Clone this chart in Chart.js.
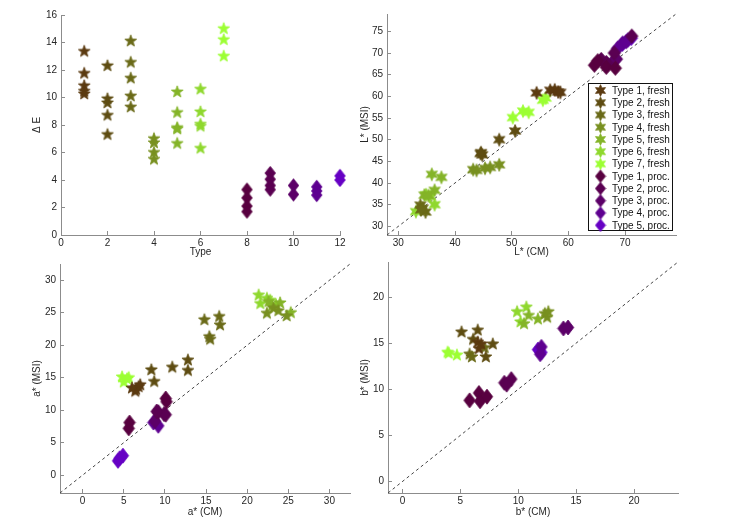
<!DOCTYPE html>
<html><head><meta charset="utf-8">
<script src="https://cdn.jsdelivr.net/npm/chart.js@4.4.0/dist/chart.umd.min.js"></script>
<style>
html,body{margin:0;padding:0;background:#fff;width:745px;height:524px;overflow:hidden}
.w{position:absolute;left:0;top:0;width:745px;height:524px}
</style></head><body>
<div class="w"><canvas id="c1"></canvas></div>
<div class="w"><canvas id="c2"></canvas></div>
<div class="w"><canvas id="c3"></canvas></div>
<div class="w"><canvas id="c4"></canvas></div>
<script>
// ---------- labels & colours ----------
const freshLabels = ['Type 1, fresh','Type 2, fresh','Type 3, fresh','Type 4, fresh','Type 5, fresh','Type 6, fresh','Type 7, fresh'];
const procLabels = ['Type 1, proc.','Type 2, proc.','Type 3, proc.','Type 4, proc.','Type 5, proc.'];
const freshColors = ['#5b3a10','#5e4c12','#6a6a18','#789020','#84b428','#8fd82e','#9cff33'];
const procColors = ['#580040','#5a0052','#5c0068','#5e0090','#6600c4'];

// ---------- Plot 1: Delta E per type ----------
const typeXFresh = [1,2,3,4,5,6,7];
const typeXProc = [8,9,10,11,12];
const dEFresh = [
  [13.35,11.75,10.85,10.45,10.25],
  [12.3,9.9,9.6,8.7,7.3],
  [14.1,12.55,11.4,10.1,9.3],
  [7.0,6.7,6.0,5.5],
  [10.4,8.9,7.8,7.7,6.65],
  [10.6,8.95,8.05,7.9,6.3],
  [15.0,14.2,13.0]
];
const dEProc = [
  [3.3,2.7,2.1,1.7],
  [4.5,4.05,3.6,3.3],
  [3.6,2.95],
  [3.5,3.2,2.9],
  [4.3,4.0]
];
const typeTicks = [0,2,4,6,8,10,12];
const dETicks = [0,2,4,6,8,10,12,14,16];

// ---------- Plot 2: L* ----------
const LcmFresh = [
  [54.4,56.8,57.6,58.2,58.6],
  [50.6,47.8,44.6,44.8,44.5],
  [33.9,34.8,34.3,34.0],
  [43.2,45.3,46.2,47.8,43.8],
  [35.9,37.6,36.4,34.6,35.3],
  [33.1,36.4,34.9,35.6],
  [50.2,52.0,53.0,55.5,56.0]
];
const LmsiFresh = [
  [60.8,61.4,61.5,61.0,60.9],
  [52.0,50.0,47.0,46.5,46.8],
  [34.9,33.3,34.2,33.8],
  [43.1,43.4,43.6,44.2,42.9],
  [42.0,41.3,38.3,37.2,37.1],
  [33.4,35.0,37.3,36.9],
  [55.1,56.6,56.3,59.1,59.6]
];
const LcmProc = [
  [64.6,66.7,68.3,65.2],
  [65.8,68.1,66.7,71.2],
  [67.8,66.9,68.5],
  [69.6,70.2,68.7],
  [71.1,70.5,69.5]
];
const LmsiProc = [
  [67.2,66.7,66.5,68.2],
  [68.5,70.0,67.8,73.9],
  [67.9,67.4,68.6],
  [72.3,72.6,71.1],
  [73.4,73.0,72.0]
];
const rangeL = [28,79];
const LTicksX = [30,40,50,60,70];
const LTicksY = [30,35,40,45,50,55,60,65,70,75];

// ---------- Plot 3: a* ----------
const AcmFresh = [
  [6.5,6.8,6.4,7.0,6.0],
  [8.35,8.7,10.9,12.8,12.8],
  [14.8,16.6,16.7,15.4,15.5],
  [22.4,23.2,24.8,23.8],
  [22.6,24.0,25.3,23.0],
  [21.4,22.4,21.6,22.8,23.5],
  [4.8,5.6,5.0,5.4]
];
const AmsiFresh = [
  [13.2,13.6,12.9,13.9,13.4],
  [16.2,14.4,16.6,17.7,16.1],
  [23.9,24.4,23.1,21.3,20.9],
  [24.9,25.7,24.5,25.3],
  [26.7,26.5,25.0,26.0],
  [27.7,27.2,26.4,26.9,26.2],
  [15.1,15.0,14.3,14.8]
];
const AcmProc = [
  [5.7,5.6,10.1,10.2],
  [9.2,9.9,10.1,9.0],
  [8.8],
  [8.6,9.2],
  [4.5,4.9,4.3]
];
const AmsiProc = [
  [8.1,7.2,11.8,11.3],
  [9.7,9.4,9.3,9.8],
  [8.3],
  [8.1,7.6],
  [2.6,3.0,2.2]
];
const rangeA = [-2.75,32.5];
const ATicks = [0,5,10,15,20,25,30];

// ---------- Plot 4: b* ----------
const BcmFresh = [
  [6.5,6.8,6.6],
  [5.1,6.5,6.1,7.8,7.2],
  [5.8,6.0,7.1],
  [12.3,12.5,12.6],
  [11.7,10.9,10.5],
  [9.9,10.7,10.2],
  [3.9,4.7,4.0]
];
const BmsiFresh = [
  [15.1,14.9,14.4],
  [16.2,16.4,15.4,14.9,13.5],
  [13.8,13.5,14.5],
  [18.2,17.8,18.4],
  [17.6,18.0,17.1],
  [18.4,18.9,17.3],
  [14.0,13.7,13.9]
];
const BcmProc = [
  [5.8,6.6,6.7,7.3],
  [8.8,9.4,9.0],
  [13.9,14.3],
  [12.0,11.9],
  [11.7,12.0]
];
const BmsiProc = [
  [8.8,9.6,8.7,9.2],
  [10.7,11.1,10.5],
  [16.6,16.7],
  [14.6,13.8],
  [14.3,14.0]
];
const rangeB = [-1.25,23.8];
const BTicks = [0,5,10,15,20];

// ---------- marker images ----------
function mkStar(color, r, n, inner){
  const size = Math.ceil(2*r+3);
  const c = document.createElement('canvas'); c.width = c.height = size;
  const g = c.getContext('2d'); g.translate(size/2,size/2);
  g.beginPath();
  for(let i=0;i<2*n;i++){const a=-Math.PI/2+i*Math.PI/n; const rr=(i%2)?r*inner:r; g.lineTo(rr*Math.cos(a),rr*Math.sin(a));}
  g.closePath(); g.fillStyle=color; g.fill(); g.strokeStyle=color; g.lineWidth=0.8; g.stroke();
  return c;
}
function mkDiamond(color, w, h){
  const W=Math.ceil(w+2), H=Math.ceil(h+2);
  const c = document.createElement('canvas'); c.width=W; c.height=H;
  const g=c.getContext('2d'); g.translate(W/2,H/2);
  g.beginPath(); g.moveTo(0,-h/2); g.lineTo(w/2,0); g.lineTo(0,h/2); g.lineTo(-w/2,0); g.closePath();
  g.fillStyle=color; g.fill(); g.strokeStyle=color; g.lineWidth=0.8; g.stroke();
  return c;
}

const FONT = "'Liberation Sans', Arial, Helvetica, sans-serif";
const AX = '#8c8c8c', TXT = '#262626';

function axis(range, ticks, title, isY, titlePad){
  return {
    type:'linear', min:range[0], max:range[1],
    afterBuildTicks: s => { s.ticks = ticks.map(v => ({value:v})); },
    afterFit: s => { if(isY) s.width = 40; else s.height = 30; },
    grid:{display:true, drawOnChartArea:false, drawTicks:true, tickLength:-4, color:AX, lineWidth:1},
    border:{display:true, color:AX, width:1},
    ticks:{padding: isY?8:6, color:TXT, font:{family:FONT,size:10}, maxRotation:0, autoSkip:false},
    title:{display:true, text:title, color:TXT, font:{family:FONT,size:10},
           padding: isY?{top:titlePad,bottom:0}:{top:0,bottom:titlePad}}
  };
}

function pts(xs, ys){ return xs.map((x,i)=>({x:x, y:ys[i]})); }

function groupSets(xF, yF, xP, yP, starR, starN, starIn, dW, dH){
  const sets = [];
  freshLabels.forEach((lab,i)=>{
    sets.push({label:lab, data:pts(xF[i], yF[i]), pointStyle:mkStar(freshColors[i],starR,starN,starIn),
      pointRadius:5, showLine:false, order:1, clip:false});
  });
  procLabels.forEach((lab,i)=>{
    sets.push({label:lab, data:pts(xP[i], yP[i]), pointStyle:mkDiamond(procColors[i],dW,dH),
      pointRadius:5, showLine:false, order:1, clip:false});
  });
  return sets;
}
function diagSet(range){
  return {label:'y=x', data:[{x:range[0],y:range[0]},{x:range[1],y:range[1]}], showLine:true,
    borderColor:'#444', borderWidth:1, borderDash:[3,3], pointRadius:0, order:5, clip:false};
}

function baseOpts(pad, xs, ys){
  return {
    responsive:true, maintainAspectRatio:false, animation:false, events:[],
    layout:{autoPadding:false, padding:pad},
    plugins:{legend:{display:false}, tooltip:{enabled:false}},
    scales:{x:xs, y:ys}
  };
}

// legend plugin for plot 2
const msiLegend = {
  id:'msiLegend',
  afterDraw(chart){
    const g = chart.ctx;
    const L=588, T=83, R=673, B=231;
    g.save();
    g.fillStyle='#fff'; g.fillRect(L,T,R-L,B-T);
    g.strokeStyle='#111'; g.lineWidth=1; g.strokeRect(L+0.5,T+0.5,R-L-1,B-T-1);
    const labels = freshLabels.concat(procLabels);
    const imgs = freshColors.map(c=>mkStar(c,5.8,6,0.5)).concat(procColors.map(c=>mkDiamond(c,10,12.5)));
    g.font = "10px " + FONT; g.fillStyle='#111'; g.textBaseline='middle'; g.textAlign='left';
    labels.forEach((lab,i)=>{
      const y = 90.5 + i*12.25;
      const im = imgs[i];
      g.drawImage(im, 600.5-im.width/2, y-im.height/2);
      g.fillText(lab, 612, y+0.5);
    });
    g.restore();
  }
};

// ---- Chart 1 ----
const sets1 = [];
freshLabels.forEach((lab,i)=>{
  sets1.push({label:lab, data:dEFresh[i].map(v=>({x:typeXFresh[i], y:v})), pointStyle:mkStar(freshColors[i],6.2,5,0.42), pointRadius:5, showLine:false, clip:false});
});
procLabels.forEach((lab,i)=>{
  sets1.push({label:lab, data:dEProc[i].map(v=>({x:typeXProc[i], y:v})), pointStyle:mkDiamond(procColors[i],10.5,13.5), pointRadius:5, showLine:false, clip:false});
});
new Chart(document.getElementById('c1'), {
  type:'scatter', data:{datasets:sets1},
  options: baseOpts({left:21,right:405,top:15,bottom:259},
    axis([0,12], typeTicks, 'Type', false, 7),
    axis([0,16], dETicks, 'Δ E', true, 10))
});

// ---- Chart 2 ----
new Chart(document.getElementById('c2'), {
  type:'scatter',
  data:{datasets:[diagSet(rangeL)].concat(groupSets(LcmFresh,LmsiFresh,LcmProc,LmsiProc,6.5,6,0.5,12.5,14.5))},
  options: baseOpts({left:347,right:69,top:7,bottom:259},
    axis(rangeL, LTicksX, 'L* (CM)', false, 7),
    axis(rangeL, LTicksY, 'L* (MSI)', true, 12)),
  plugins:[msiLegend]
});

// ---- Chart 3 ----
new Chart(document.getElementById('c3'), {
  type:'scatter',
  data:{datasets:[diagSet(rangeA)].concat(groupSets(AcmFresh,AmsiFresh,AcmProc,AmsiProc,6.3,5,0.42,11.5,15))},
  options: baseOpts({left:20,right:395,top:264,bottom:1},
    axis(rangeA, ATicks, 'a* (CM)', false, 5),
    axis(rangeA, ATicks, 'a* (MSI)', true, 11))
});

// ---- Chart 4 ----
new Chart(document.getElementById('c4'), {
  type:'scatter',
  data:{datasets:[diagSet(rangeB)].concat(groupSets(BcmFresh,BmsiFresh,BcmProc,BmsiProc,6.3,5,0.42,11.5,15))},
  options: baseOpts({left:348,right:67,top:262,bottom:1},
    axis(rangeB, BTicks, 'b* (CM)', false, 5),
    axis(rangeB, BTicks, 'b* (MSI)', true, 11))
});
</script>
</body></html>
